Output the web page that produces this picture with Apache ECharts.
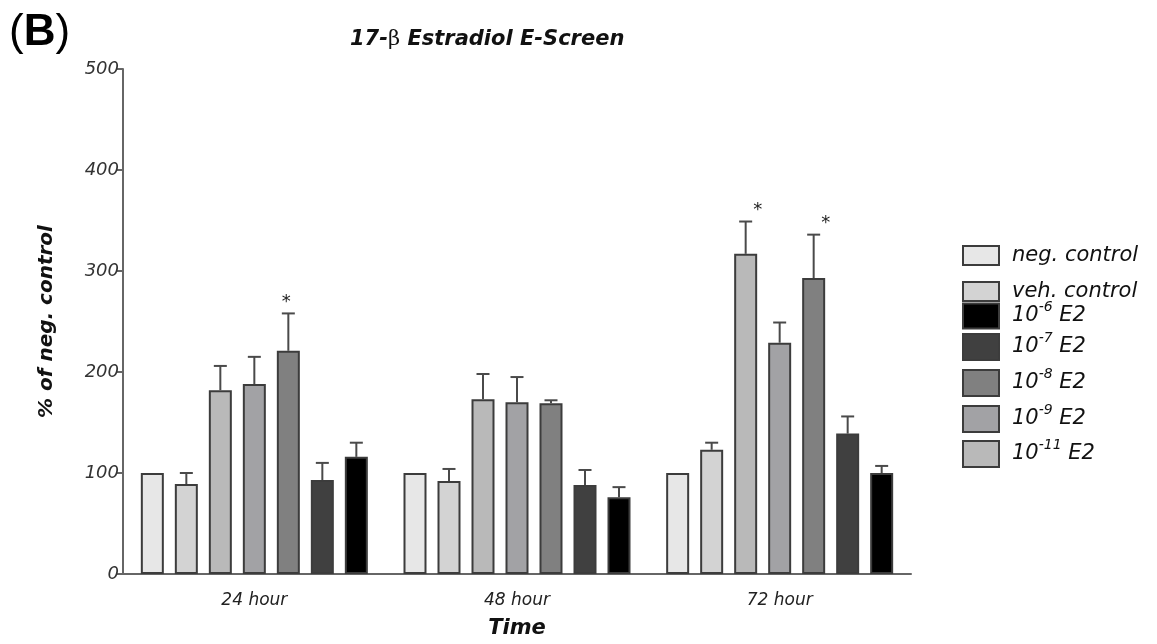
<!DOCTYPE html>
<html>
<head>
<meta charset="utf-8">
<title>17-β Estradiol E-Screen</title>
<script src="https://cdn.jsdelivr.net/npm/echarts@6/dist/echarts.min.js"></script>
<style>
  html, body { margin: 0; padding: 0; background: #fff; }
  #chart { width: 1157px; height: 644px; }
</style>
</head>
<body>
<div id="chart"></div>
<script>
  // data (% of neg. control, mean and upper SEM)
  const categories = ['24 hour', '48 hour', '72 hour'];

  const negControl = [100, 100, 100];
  const negControlErr = [0, 0, 0];
  const vehControl = [89, 92, 123];
  const vehControlErr = [11, 12, 7];
  const e2_11 = [182, 173, 317];
  const e2_11Err = [24, 25, 32];
  const e2_9 = [188, 170, 229];
  const e2_9Err = [27, 25, 20];
  const e2_8 = [221, 169, 293];
  const e2_8Err = [37, 3, 43];
  const e2_7 = [93, 88, 139];
  const e2_7Err = [17, 15, 17];
  const e2_6 = [116, 76, 100];
  const e2_6Err = [14, 10, 7];

  // significance stars: [category index, series name]
  const stars = [[0, '10-8 E2'], [2, '10-11 E2'], [2, '10-8 E2']];

  const yTicks = [0, 100, 200, 300, 400, 500];

  // order of bars inside each group
  const groups = [
    { name: 'neg. control', values: negControl, err: negControlErr, color: '#e7e7e7' },
    { name: 'veh. control', values: vehControl, err: vehControlErr, color: '#d3d3d3' },
    { name: '10-11 E2', values: e2_11, err: e2_11Err, color: '#b9b9b9' },
    { name: '10-9 E2', values: e2_9, err: e2_9Err, color: '#a2a2a5' },
    { name: '10-8 E2', values: e2_8, err: e2_8Err, color: '#808080' },
    { name: '10-7 E2', values: e2_7, err: e2_7Err, color: '#404040' },
    { name: '10-6 E2', values: e2_6, err: e2_6Err, color: '#000000' }
  ];

  // legend order (as in the figure) and layout
  const legendOrder = ['neg. control', 'veh. control', '10-6 E2', '10-7 E2', '10-8 E2', '10-9 E2', '10-11 E2'];
  const legendTop = [240, 276, 295, 326, 362, 398, 433];
  const legendH = [19, 19, 25, 26, 26, 26, 26];

  const FONT = '"DejaVu Sans", sans-serif';
  const BAR_W = 23;
  const BAR_GAP = 11;

  function legendLabel(name) {
    const m = name.match(/^10-(\d+) E2$/);
    if (m) return '{b|10}{sup|-' + m[1] + '}{b| E2}';
    return '{b|' + name + '}';
  }

  const chart = echarts.init(document.getElementById('chart'), null, { renderer: 'canvas' });

  const series = [];
  groups.forEach(function (g) {
    series.push({
      name: g.name,
      type: 'bar',
      barWidth: BAR_W,
      barGap: (BAR_GAP / BAR_W * 100) + '%',
      data: g.values,
      itemStyle: { color: g.color, borderColor: '#3c3c3c', borderWidth: 2 },
      emphasis: { disabled: true },
      z: 3
    });
  });

  // error bars (upper half only) + stars, drawn with a custom series
  const n = groups.length;
  series.push({
    type: 'custom',
    name: 'errors',
    silent: true,
    z: 2,
    data: (function () {
      const out = [];
      groups.forEach(function (g, gi) {
        g.values.forEach(function (v, ci) {
          out.push([ci, v, g.err[ci], gi]);
        });
      });
      return out;
    })(),
    renderItem: function (params, api) {
      const ci = api.value(0);
      const gi = api.value(3);
      const err = api.value(2);
      const base = api.coord([ci, api.value(1)]);
      const x = base[0] + (gi - (n - 1) / 2) * (BAR_W + BAR_GAP);
      const top = api.coord([ci, api.value(1) + err]);
      const children = [];
      if (err > 0) {
        children.push({
          type: 'line',
          shape: { x1: x, y1: base[1], x2: x, y2: top[1] },
          style: { stroke: '#4a4a4a', lineWidth: 2 }
        });
        children.push({
          type: 'line',
          shape: { x1: x - 6.5, y1: top[1], x2: x + 6.5, y2: top[1] },
          style: { stroke: '#4a4a4a', lineWidth: 2 }
        });
      }
      const name = groups[gi].name;
      const hasStar = stars.some(function (s) { return s[0] === ci && s[1] === name; });
      if (hasStar) {
        children.push({
          type: 'text',
          style: {
            x: x + (ci === 0 ? -2 : 12), y: top[1] - 2,
            text: '*',
            font: '18px ' + FONT,
            fill: '#222',
            align: 'center',
            verticalAlign: 'bottom'
          }
        });
      }
      return { type: 'group', children: children };
    }
  });

  const legends = legendOrder.map(function (name, i) {
    return {
      data: [name],
      orient: 'vertical',
      left: 957,
      top: legendTop[i],
      itemWidth: 36,
      itemHeight: legendH[i],
      itemGap: 0,
      icon: 'rect',
      selectedMode: false,
      formatter: legendLabel,
      textStyle: {
        padding: [0, 0, 0, 8],
        rich: {
          b: { fontFamily: FONT, fontStyle: 'italic', fontSize: 21, color: '#111' },
          sup: { fontFamily: FONT, fontStyle: 'italic', fontSize: 14, color: '#111', padding: [0, 0, 18, 0] }
        }
      }
    };
  });

  const option = {
    backgroundColor: '#ffffff',
    animation: false,
    title: [
      {
        text: '{t|17-}{beta|β}{t| Estradiol E-Screen}',
        left: 345,
        top: 24,
        textStyle: {
          rich: {
            t: { fontFamily: FONT, fontStyle: 'italic', fontWeight: 'bold', fontSize: 21, color: '#111' },
            beta: { fontFamily: '"DejaVu Serif", serif', fontWeight: 'normal', fontSize: 21, color: '#111' }
          }
        }
      },
      {
        text: '{p|(}{b|B}{p|)}',
        left: 4,
        top: 6,
        textStyle: {
          rich: {
            p: { fontFamily: '"Liberation Sans", Arial, sans-serif', fontWeight: 'normal', fontSize: 44, color: '#000' },
            b: { fontFamily: '"Liberation Sans", Arial, sans-serif', fontWeight: 'bold', fontSize: 44, color: '#000' }
          }
        }
      }
    ],
    legend: legends,
    grid: { left: 123, top: 69, width: 788, height: 509, containLabel: false },
    xAxis: {
      type: 'category',
      data: categories,
      name: 'Time',
      nameLocation: 'middle',
      nameGap: 44,
      nameTextStyle: { fontFamily: FONT, fontStyle: 'italic', fontWeight: 'bold', fontSize: 21, color: '#111' },
      axisLine: { lineStyle: { color: '#666', width: 2 } },
      axisTick: { show: false },
      axisLabel: { fontFamily: FONT, fontStyle: 'italic', fontSize: 17, color: '#222', margin: 18 },
      splitLine: { show: false }
    },
    yAxis: {
      type: 'value',
      min: yTicks[0],
      max: yTicks[yTicks.length - 1],
      interval: yTicks[1] - yTicks[0],
      name: '% of neg. control',
      nameLocation: 'middle',
      nameRotate: 90,
      nameGap: 66,
      nameTextStyle: { fontFamily: FONT, fontStyle: 'italic', fontWeight: 'bold', fontSize: 20, color: '#111' },
      axisLine: { show: true, lineStyle: { color: '#666', width: 2 } },
      axisTick: { show: true, length: 6, lineStyle: { color: '#666', width: 2 } },
      axisLabel: { fontFamily: FONT, fontStyle: 'italic', fontSize: 18, color: '#333', margin: 4 },
      splitLine: { show: false }
    },
    series: series
  };

  chart.setOption(option);
</script>
</body>
</html>
